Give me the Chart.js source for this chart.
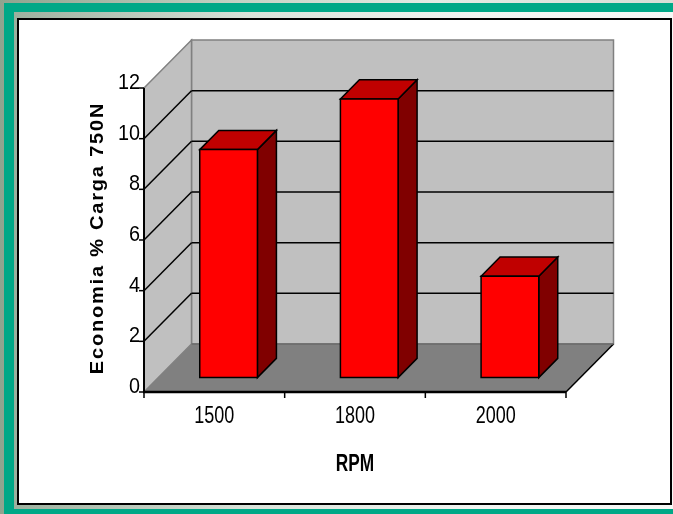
<!DOCTYPE html>
<html>
<head>
<meta charset="utf-8">
<script src="https://cdn.jsdelivr.net/npm/chart.js@4/dist/chart.umd.min.js"></script>
<style>
  html, body { margin: 0; padding: 0; }
  body {
    width: 673px; height: 514px; position: relative; overflow: hidden;
    background: linear-gradient(90deg, #8fa48f 0%, #c4d2c4 35%, #e4ebe4 65%, #d6ded6 100%);
  }
  #teal { position: absolute; left: 4px; top: 3px; right: -10px; bottom: 0; background: #00a887; }
  #pale {
    position: absolute; left: 14px; top: 12px; right: -10px; bottom: 5px;
    background: linear-gradient(90deg, #9db09e 0%, #d9e2d9 35%, #f2f5f2 70%, #f6f8f6 100%);
  }
  #panel {
    position: absolute; left: 17px; top: 18px; width: 651px; height: 483px;
    background: #fff; border: 2px solid #000;
  }
  #chart { position: absolute; left: 0; top: 0; }
</style>
</head>
<body>
<div id="teal"></div>
<div id="pale"></div>
<div id="panel"></div>
<canvas id="chart" width="673" height="514"></canvas>
<script>
// Fuel saving (%) at 750 N load, by engine speed
const categories = ['1500', '1800', '2000'];
const economia = [9, 11, 4];
const yTicks = [0, 2, 4, 6, 8, 10, 12];
const xTitle = 'RPM';
const yTitle = 'Economia % Carga 750N';

// Depth of the 3D box (in pixels) and where the bars sit inside it
const DEPTH_X = 47.5, DEPTH_Y = 48;
const BAR_FRONT = 0.3, BAR_BACK = 0.7;

function squeezedText(ctx, text, x, y, font, align, baseline, sx, rot, spacing) {
  ctx.save();
  ctx.translate(x, y);
  ctx.scale(sx, 1);
  if (rot) ctx.rotate(rot);
  ctx.font = font;
  if (spacing) ctx.letterSpacing = spacing;
  ctx.textAlign = align;
  ctx.textBaseline = baseline;
  ctx.fillStyle = '#000';
  ctx.fillText(text, 0, 0);
  ctx.restore();
}

function poly(ctx, pts, fill, stroke, lw) {
  ctx.beginPath();
  ctx.moveTo(pts[0][0], pts[0][1]);
  for (let i = 1; i < pts.length; i++) ctx.lineTo(pts[i][0], pts[i][1]);
  ctx.closePath();
  if (fill) { ctx.fillStyle = fill; ctx.fill(); }
  if (stroke) { ctx.strokeStyle = stroke; ctx.lineWidth = lw || 1; ctx.stroke(); }
}

function line(ctx, x1, y1, x2, y2, color, lw) {
  ctx.beginPath();
  ctx.moveTo(x1, y1); ctx.lineTo(x2, y2);
  ctx.strokeStyle = color; ctx.lineWidth = lw; ctx.stroke();
}

const box3d = {
  id: 'box3d',
  beforeDatasetsDraw(chart) {
    const ctx = chart.ctx;
    const xs = chart.scales.x, ys = chart.scales.y;
    const x0 = xs.left, x1 = xs.right;
    const yTop = ys.getPixelForValue(yTicks[yTicks.length - 1]);
    const yBot = ys.getPixelForValue(0);
    const dx = DEPTH_X, dy = DEPTH_Y;
    ctx.save();
    ctx.lineJoin = 'miter';
    // back wall
    poly(ctx, [[x0 + dx, yTop - dy], [x1 + dx, yTop - dy], [x1 + dx, yBot - dy], [x0 + dx, yBot - dy]], '#c0c0c0', '#808080', 1.5);
    // side wall
    poly(ctx, [[x0, yTop], [x0 + dx, yTop - dy], [x0 + dx, yBot - dy], [x0, yBot]], '#c0c0c0', '#808080', 1.5);
    // floor
    poly(ctx, [[x0, yBot], [x1, yBot], [x1 + dx, yBot - dy], [x0 + dx, yBot - dy]], '#808080', null);
    line(ctx, x1, yBot, x1 + dx, yBot - dy, '#000', 1.5);
    line(ctx, x0 + dx, yBot - dy, x1 + dx, yBot - dy, '#6a6a6a', 1.5);
    // gridlines on both walls
    yTicks.forEach(v => {
      if (v === 0 || v === yTicks[yTicks.length - 1]) return;
      const y = ys.getPixelForValue(v);
      line(ctx, x0, y, x0 + dx, y - dy, '#000', 1.5);
      line(ctx, x0 + dx, y - dy, x1 + dx, y - dy, '#000', 1.5);
    });
    ctx.restore();
  },
  afterDatasetsDraw(chart) {
    const ctx = chart.ctx;
    const xs = chart.scales.x, ys = chart.scales.y;
    const meta = chart.getDatasetMeta(0);
    const fx = DEPTH_X * BAR_FRONT, fy = DEPTH_Y * BAR_FRONT;
    const bx = DEPTH_X * (BAR_BACK - BAR_FRONT), by = DEPTH_Y * (BAR_BACK - BAR_FRONT);
    ctx.save();
    ctx.lineJoin = 'miter';
    meta.data.forEach(bar => {
      const p = bar.getProps(['x', 'y', 'base', 'width'], true);
      const l = p.x - p.width / 2 + fx, r = p.x + p.width / 2 + fx;
      const t = p.y - fy, b = p.base - fy;
      // right side face
      poly(ctx, [[r, t], [r + bx, t - by], [r + bx, b - by], [r, b]], '#800000', '#000', 1.5);
      // top face
      poly(ctx, [[l, t], [l + bx, t - by], [r + bx, t - by], [r, t]], '#c00000', '#000', 1.5);
      // front face
      poly(ctx, [[l, t], [r, t], [r, b], [l, b]], '#ff0000', '#000', 1.5);
    });

    const x0 = xs.left, x1 = xs.right;
    const yTop = ys.getPixelForValue(yTicks[yTicks.length - 1]);
    const yBot = ys.getPixelForValue(0);
    // axes
    line(ctx, x0, yTop, x0, yBot + 1, '#000', 2);
    line(ctx, x0 - 1, yBot, x1, yBot, '#000', 2.5);
    yTicks.forEach(v => {
      const y = ys.getPixelForValue(v);
      line(ctx, x0 - 5, y, x0, y, '#000', 1.5);
      squeezedText(ctx, String(v), x0 - 4, y - 5, '22px "Liberation Sans", Arial, sans-serif', 'right', 'middle', 0.9, 0);
    });
    const n = categories.length;
    for (let i = 0; i <= n; i++) {
      const x = x0 + (x1 - x0) * i / n;
      line(ctx, x, yBot, x, yBot + 6, '#000', 1.5);
    }
    categories.forEach((c, i) => {
      squeezedText(ctx, c, xs.getPixelForValue(i), 416, '24px "Liberation Sans", Arial, sans-serif', 'center', 'middle', 0.75, 0);
    });
    squeezedText(ctx, xTitle, (x0 + x1) / 2, 464, 'bold 24px "Liberation Sans", Arial, sans-serif', 'center', 'middle', 0.72, 0);
    squeezedText(ctx, yTitle, 97.5, (yTop + yBot) / 2 - 2, 'bold 20px "Liberation Sans", Arial, sans-serif', 'center', 'middle', 0.95, -Math.PI / 2, '1.8px');
    ctx.restore();
  }
};

new Chart(document.getElementById('chart'), {
  type: 'bar',
  data: {
    labels: categories,
    datasets: [{
      data: economia,
      backgroundColor: 'rgba(0,0,0,0)',
      borderWidth: 0,
      categoryPercentage: 1,
      barPercentage: 0.41
    }]
  },
  options: {
    responsive: false,
    animation: false,
    events: [],
    layout: { padding: { left: 144, right: 107, top: 88, bottom: 122 } },
    plugins: { legend: { display: false }, tooltip: { enabled: false } },
    scales: {
      x: { display: false },
      y: { display: false, min: 0, max: 12, ticks: { stepSize: 2 } }
    }
  },
  plugins: [box3d]
});
</script>
</body>
</html>
